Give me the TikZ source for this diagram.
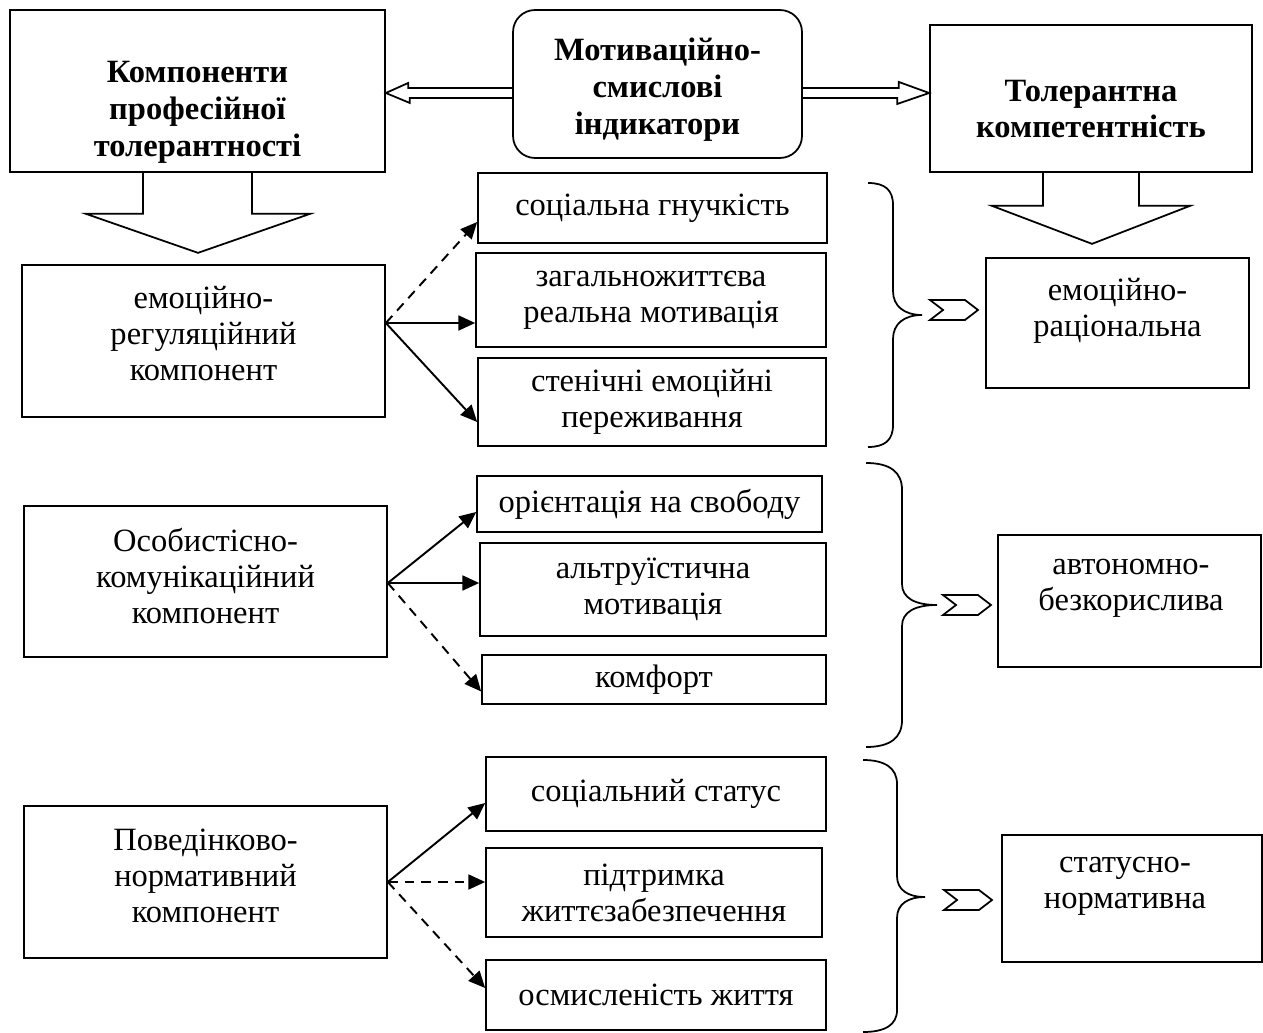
\documentclass[tikz,border=0pt]{standalone}
\usepackage{fontspec}
\setmainfont{Liberation Serif}
\usetikzlibrary{arrows.meta,calc,shapes.symbols}

\tikzset{
  box/.style={draw, line width=1pt, inner sep=0pt, align=center, font=\fontsize{18.5}{20.5}\selectfont},
  txt/.style={align=center, inner sep=0pt, font=\fontsize{18.5}{20.5}\selectfont},
  btxt/.style={txt, font=\fontsize{18.5}{21}\selectfont\bfseries},
  arr/.style={line width=1.1pt, -{Triangle[length=9.5pt,width=8.5pt]}},
  darr/.style={arr, dash pattern=on 5.5pt off 4pt},
  fat/.style={line width=1pt, line join=miter},
  chev/.style={signal, draw, line width=1pt, signal from=west, signal to=east, signal pointer angle=75, minimum width=0.96cm, minimum height=0.4cm, inner sep=0pt},
  brc/.style={line width=1pt},
}

\begin{document}
\begin{tikzpicture}[x=0.02cm, y=-0.02cm]
    \useasboundingbox (0,0) rectangle (1263,1033);

    % top row
    \node[box, minimum width=7.5cm, minimum height=3.24cm] (komp) at (197.5,91) {};
    \node[btxt] (kompT) at (197.5,112) {Компоненти\\професійної\\толерантності};
    \node[box, rounded corners=0.44cm, minimum width=5.78cm, minimum height=2.96cm] (motiv) at (657.5,84) {};
    \node[btxt] (motivT) at (657.5,90) {Мотиваційно-\\смислові\\індикатори};
    \node[box, minimum width=6.44cm, minimum height=2.94cm] (tk) at (1091,98.5) {};
    \node[btxt] (tkT) at (1091,109) {Толерантна\\компетентність};

    \draw[fat] ($(motiv.west)+(0,4)$) -- ++(-104,0) -- ++(0,-5) -- ($(komp.east)+(0,2)$)
        -- ++(24,10) -- ++(0,-5) -- ++(104,0);
    \draw[fat] ($(motiv.east)+(0,4)$) -- ++(96,0) -- ++(0,-6) -- ($(tk.west)+(0,-5.5)$)
        -- ++(-32,11) -- ++(0,-6) -- ++(-96,0);

    \draw[fat] ($(komp.south)+(-54.5,0)$) -- ++(0,41) -- ++(-57,0) -- ++(112,39)
        -- ++(112,-39) -- ++(-58,0) -- ++(0,-41);
    \draw[fat] ($(tk.south)+(-48,0)$) -- ++(0,33) -- ++(-51,0) -- ++(100,38)
        -- ++(98,-38) -- ++(-51,0) -- ++(0,-33);

    % left column
    \node[box, minimum width=7.26cm, minimum height=3.04cm] (er) at (203.5,341) {};
    \node[txt] (erT) at (203.5,334) {емоційно-\\регуляційний\\компонент};
    \node[box, minimum width=7.26cm, minimum height=3.02cm] (ok) at (205.5,581.5) {};
    \node[txt] (okT) at (205.5,576) {Особистісно-\\комунікаційний\\компонент};
    \node[box, minimum width=7.26cm, minimum height=3.04cm] (pn) at (205.5,882) {};
    \node[txt] (pnT) at (205.5,876) {Поведінково-\\нормативний\\компонент};

    % middle column
    \node[box, minimum width=6.98cm, minimum height=1.4cm] (sg) at (652.5,208) {соціальна гнучкість};
    \node[box, minimum width=7cm, minimum height=1.88cm] (zm) at (651,300) {загальножиттєва\\реальна мотивація};
    \node[box, minimum width=6.96cm, minimum height=1.76cm] (se) at (652,402) {стенічні емоційні\\переживання};
    \node[box, minimum width=6.9cm, minimum height=1.12cm] (os) at (649.5,504) {орієнтація на свободу};
    \node[box, minimum width=6.92cm, minimum height=1.86cm] (am) at (653,589.5) {альтруїстична\\мотивація};
    \node[box, minimum width=6.88cm, minimum height=0.98cm] (kf) at (654,679.5) {комфорт};
    \node[box, minimum width=6.8cm, minimum height=1.48cm] (ss) at (656,794) {соціальний статус};
    \node[box, minimum width=6.72cm, minimum height=1.78cm] (pz) at (654,892.5) {підтримка\\життєзабезпечення};
    \node[box, minimum width=6.8cm, minimum height=1.4cm] (oz) at (656,995) {осмисленість життя};

    \coordinate (erOut) at ($(er.east)+(0,-18)$);
    \draw[darr] (erOut) -- ($(sg.west)+(0,14)$);
    \draw[arr] (erOut) -- ($(zm.west)+(0,23)$);
    \draw[arr] (erOut) -- ($(se.west)+(0,20)$);

    \coordinate (okOut) at ($(ok.east)+(0,1.5)$);
    \draw[arr] (okOut) -- ($(os.west)+(0,8)$);
    \draw[arr] (okOut) -- ($(am.west)+(0,-6.5)$);
    \draw[darr] (okOut) -- ($(kf.west)+(0,12)$);

    \draw[arr] (pn.east) -- ($(ss.west)+(0,9)$);
    \draw[darr] (pn.east) -- ($(pz.west)+(0,-10.5)$);
    \draw[darr] (pn.east) -- ($(oz.west)+(0,-7)$);

    % braces
    \draw[brc] (868,183) .. controls (885,183) and (893,190) .. (893,205) -- (893,291)
        .. controls (893,306) and (904,315) .. (922,315) .. controls (904,315) and (893,324) .. (893,339)
        -- (893,425) .. controls (893,440) and (885,447) .. (868,447);
    \draw[brc] (866,463) .. controls (890,463) and (902,472) .. (902,490) -- (902,584)
        .. controls (902,598) and (915,605) .. (937,605) .. controls (915,605) and (902,612) .. (902,626)
        -- (902,720) .. controls (902,738) and (890,747) .. (866,747);
    \draw[brc] (863,760) .. controls (885,760) and (897,768) .. (897,784) -- (897,876)
        .. controls (897,890) and (908,897) .. (925,897) .. controls (908,897) and (897,904) .. (897,918)
        -- (897,1010) .. controls (897,1025) and (885,1032) .. (863,1032);

    \node[chev] (ch1) at (954,310) {};
    \node[chev] (ch2) at (967,605) {};
    \node[chev] (ch3) at (968,900) {};

    % right column
    \node[box, minimum width=5.26cm, minimum height=2.6cm] (erc) at (1117.5,323) {};
    \node[txt] (ercT) at (1117.5,311) {емоційно-\\раціональна};
    \node[box, minimum width=5.26cm, minimum height=2.64cm] (ab) at (1129.5,601) {};
    \node[txt] (abT) at (1131,588) {автономно-\\безкорислива};
    \node[box, minimum width=5.2cm, minimum height=2.54cm] (sn) at (1132,898.5) {};
    \node[txt] (snT) at (1125,886) {статусно-\\нормативна};
\end{tikzpicture}
\end{document}
